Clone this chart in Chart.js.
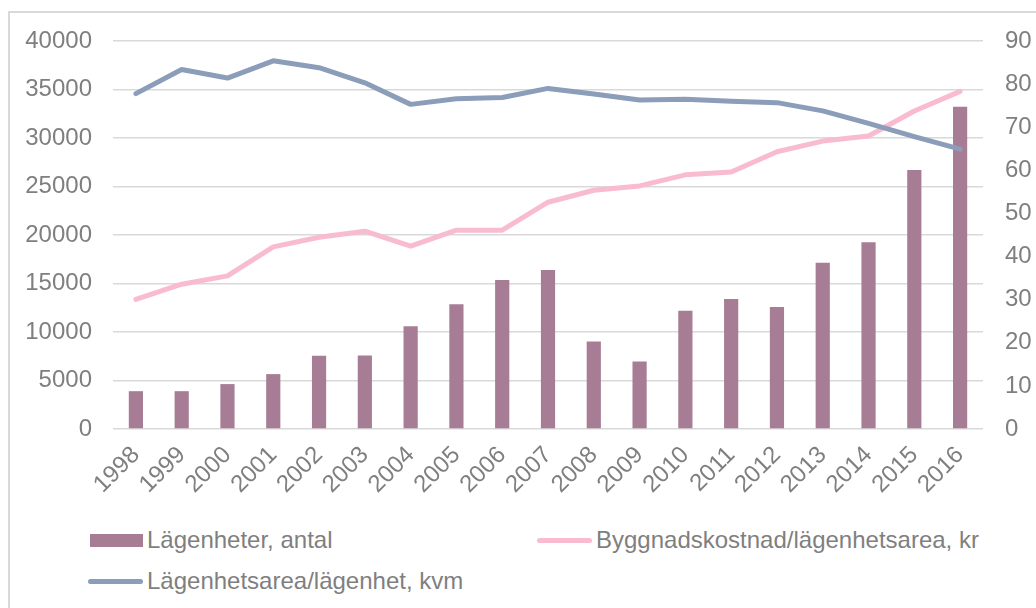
<!DOCTYPE html>
<html>
<head>
<meta charset="utf-8">
<script src="https://cdn.jsdelivr.net/npm/chart.js@4"></script>
<style>
  body { margin: 0; background: #fff; font-family: "Liberation Sans", Arial, sans-serif; }
  #frame { position: absolute; left: 8px; top: 11px; width: 1040px; height: 610px;
           border-left: 2px solid #d9d9d9; border-top: 2px solid #d9d9d9; }
  #wrap { position: absolute; left: 0; top: 0; width: 1036px; height: 500px; }
  .item { position: absolute; display: flex; align-items: center; height: 24px;
          font-size: 24px; color: #7f7f7f; white-space: nowrap; }
  .sw { margin-right: 4px; }
</style>
</head>
<body>
<div id="frame"></div>
<div id="wrap"><canvas id="c" width="1036" height="500"></canvas></div>
<div id="legend"></div>
<script>
const years = ["1998", "1999", "2000", "2001", "2002", "2003", "2004", "2005", "2006", "2007",
               "2008", "2009", "2010", "2011", "2012", "2013", "2014", "2015", "2016"];

// Lägenheter, antal (left axis)
const apartments = [3900, 3900, 4630, 5660, 7550, 7590, 10600, 12870, 15350, 16380,
                    9030, 6970, 12190, 13400, 12570, 17130, 19260, 26710, 33230];

// Byggnadskostnad/lägenhetsarea, kr (left axis)
const costPerArea = [13360, 14930, 15790, 18780, 19770, 20390, 18850, 20500, 20500, 23380,
                     24610, 25060, 26200, 26500, 28580, 29680, 30210, 32780, 34810];

// Lägenhetsarea/lägenhet, kvm (right axis)
const areaPerApartment = [77.8, 83.4, 81.4, 85.4, 83.8, 80.3, 75.3, 76.6, 76.9, 79.0,
                          77.7, 76.3, 76.5, 76.0, 75.7, 73.8, 70.9, 67.8, 64.9];

const leftTicks = { min: 0, max: 40000, step: 5000 };
const rightTicks = { min: 0, max: 90, step: 10 };

const labelNames = ["Lägenheter, antal", "Byggnadskostnad/lägenhetsarea, kr", "Lägenhetsarea/lägenhet, kvm"];
const colors = ["#a77d95", "#f8bbd0", "#8c9db9"];

const tickFont = { family: "'Liberation Sans', Arial, sans-serif", size: 24 };
const tickColor = "#7f7f7f";

function plain(value) {
    return String(value);
}

new Chart(document.getElementById("c").getContext("2d"), {
    type: "bar",
    data: {
        labels: years,
        datasets: [{
            type: "line",
            label: labelNames[2],
            data: areaPerApartment,
            yAxisID: "y1",
            borderColor: colors[2],
            borderWidth: 5,
            pointRadius: 0,
            borderCapStyle: "round",
            borderJoinStyle: "round",
            tension: 0,
            order: 1
        }, {
            type: "line",
            label: labelNames[1],
            data: costPerArea,
            yAxisID: "y",
            borderColor: colors[1],
            borderWidth: 5,
            pointRadius: 0,
            borderCapStyle: "round",
            borderJoinStyle: "round",
            tension: 0,
            order: 2
        }, {
            type: "bar",
            label: labelNames[0],
            data: apartments,
            yAxisID: "y",
            backgroundColor: colors[0],
            categoryPercentage: 1,
            barPercentage: 0.31,
            order: 3
        }]
    },
    options: {
        responsive: false,
        animation: false,
        layout: { padding: { top: 41, left: 0, right: 0, bottom: 0 } },
        scales: {
            x: {
                offset: true,
                grid: { display: false, drawTicks: false },
                border: { display: false },
                ticks: {
                    color: tickColor,
                    font: tickFont,
                    minRotation: 45,
                    maxRotation: 45,
                    padding: 12,
                    autoSkip: false
                },
                afterFit: function (scale) { scale.height = 71; }
            },
            y: {
                position: "left",
                min: leftTicks.min,
                max: leftTicks.max,
                ticks: { stepSize: leftTicks.step, color: tickColor, font: tickFont, padding: 21, callback: plain },
                grid: { color: "#d9d9d9", lineWidth: 1.5, drawTicks: false },
                border: { display: false },
                afterFit: function (scale) { scale.width = 113; }
            },
            y1: {
                position: "right",
                min: rightTicks.min,
                max: rightTicks.max,
                ticks: { stepSize: rightTicks.step, color: tickColor, font: tickFont, padding: 22, callback: plain },
                grid: { display: false, drawTicks: false },
                border: { display: false },
                afterFit: function (scale) { scale.width = 53; }
            }
        },
        plugins: {
            legend: { display: false },
            tooltip: { enabled: false }
        }
    }
});

// legend, laid out like the original two-column one
const legendItems = [
    { name: labelNames[0], color: colors[0], kind: "box", left: 90, top: 528 },
    { name: labelNames[1], color: colors[1], kind: "line", left: 537, top: 528 },
    { name: labelNames[2], color: colors[2], kind: "line", left: 88, top: 569 }
];
const legend = document.getElementById("legend");
legendItems.forEach(function (it) {
    const div = document.createElement("div");
    div.className = "item";
    div.style.left = it.left + "px";
    div.style.top = it.top + "px";
    const sw = document.createElement("span");
    sw.className = "sw";
    sw.style.display = "inline-block";
    sw.style.background = it.color;
    if (it.kind === "box") {
        sw.style.width = "53px";
        sw.style.height = "13px";
    } else {
        sw.style.width = "55px";
        sw.style.height = "5px";
        sw.style.borderRadius = "3px";
    }
    div.appendChild(sw);
    const txt = document.createElement("span");
    txt.textContent = it.name;
    div.appendChild(txt);
    legend.appendChild(div);
});
</script>
</body>
</html>
